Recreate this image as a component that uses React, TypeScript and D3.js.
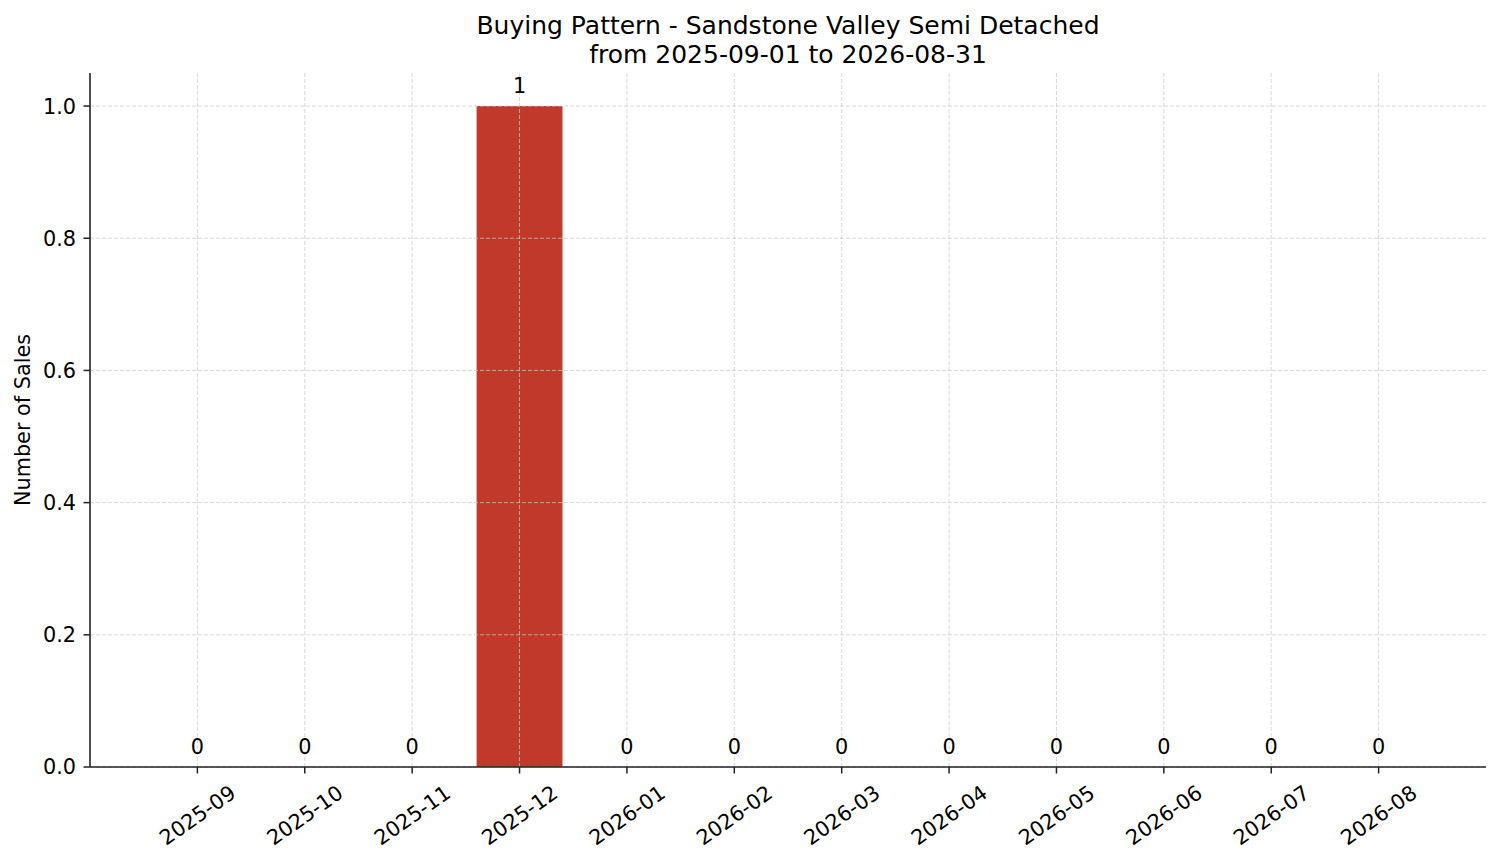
import React from "react";
import * as d3 from "d3";

const months = ["2025-09","2025-10","2025-11","2025-12","2026-01","2026-02","2026-03","2026-04","2026-05","2026-06","2026-07","2026-08"];
const sales = [0,0,0,1,0,0,0,0,0,0,0,0];
const yTicks = [0,0.2,0.4,0.6,0.8,1.0];
const titleLines = ["Buying Pattern - Sandstone Valley Semi Detached","from 2025-09-01 to 2026-08-31"];

const W = 1501, H = 863;
const left = 90, right = 1486, top = 73, bottom = 767;
const font = "DejaVu Sans, sans-serif";

export default function App() {
  const x = d3.scaleLinear().domain([-1, 12]).range([left, right]);
  const y = d3.scaleLinear().domain([0, 1.05]).range([bottom, top]);
  const bw = (x(1) - x(0)) * 0.8;
  const idx = months.map((_, i) => i);
  return (
    <svg width={W} height={H} style={{ position: "absolute", left: 0, top: 0, background: "#fff" }} fontFamily={font}>
      <rect x={0} y={0} width={W} height={H} fill="#fff" />
      {sales.map((v, i) => (
        <rect key={i} x={x(i) - bw / 2} y={y(v)} width={bw} height={y(0) - y(v)} fill="#c0392b" />
      ))}
      {idx.map(i => (
        <line key={"gx" + i} x1={x(i)} x2={x(i)} y1={top} y2={bottom} stroke="#c8c8c8" strokeOpacity={0.8} strokeWidth={0.9} strokeDasharray="4,2" />
      ))}
      {yTicks.map(t => (
        <line key={"gy" + t} x1={left} x2={right} y1={y(t)} y2={y(t)} stroke="#c8c8c8" strokeOpacity={0.8} strokeWidth={0.9} strokeDasharray="4,2" />
      ))}
      <line x1={left} x2={left} y1={top} y2={bottom} stroke="#222" strokeWidth={1.6} />
      <line x1={left} x2={right} y1={bottom} y2={bottom} stroke="#222" strokeWidth={1.6} />
      {yTicks.map(t => (
        <g key={"yt" + t}>
          <line x1={left - 6.5} x2={left} y1={y(t)} y2={y(t)} stroke="#222" strokeWidth={1.5} />
          <text x={left - 14} y={y(t)} dy="0.36em" textAnchor="end" fontSize={20.8} fill="#000">{t.toFixed(1)}</text>
        </g>
      ))}
      {months.map((m, i) => (
        <g key={m}>
          <line x1={x(i)} x2={x(i)} y1={bottom} y2={bottom + 6.5} stroke="#222" strokeWidth={1.5} />
          <text transform={`translate(${x(i)},${bottom + 48}) rotate(-35)`} textAnchor="middle" dy="0.36em" fontSize={20.8} fill="#000">{m}</text>
        </g>
      ))}
      {sales.map((v, i) => (
        <text key={"a" + i} x={x(i)} y={y(v) - 13} textAnchor="middle" fontSize={20.8} fill="#000">{v}</text>
      ))}
      <text transform={`translate(30,${(top + bottom) / 2}) rotate(-90)`} textAnchor="middle" fontSize={20.8} fill="#000">Number of Sales</text>
      {titleLines.map((t, i) => (
        <text key={t} x={(left + right) / 2} y={34 + i * 28.5} textAnchor="middle" fontSize={25} fill="#000">{t}</text>
      ))}
    </svg>
  );
}
